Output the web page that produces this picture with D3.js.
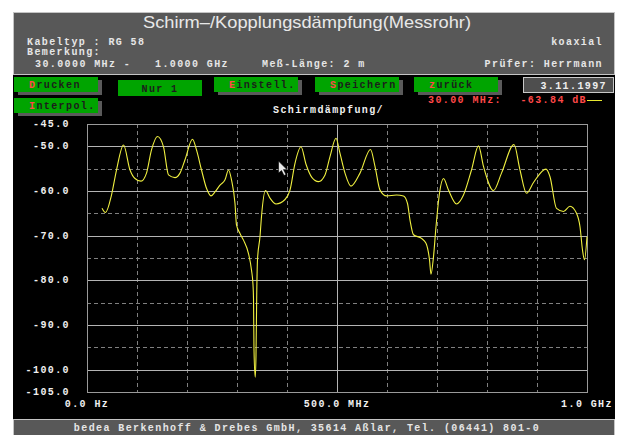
<!DOCTYPE html>
<meta charset="utf-8">
<head>
    <style>
        body {margin: 0; background: #fff;}
        text {font-family: "Liberation Mono", "DejaVu Sans Mono", monospace; font-weight: bold; font-size: 10px; letter-spacing: 1.4px;}
        .title {font-family: "Liberation Sans", Arial, sans-serif; font-weight: normal; font-size: 17px; letter-spacing: 0;}
        .grid-solid {stroke: #b4b4b4; stroke-width: 1;}
        .grid-dash {stroke: #808080; stroke-width: 1; stroke-dasharray: 4,3;}
    </style>
    <script src="https://d3js.org/d3.v7.min.js"></script>
</head>
<body>
<script>

    // measured curve, frequency in MHz, damping in dB
    var freqs = [30, 37, 49, 59, 73, 86, 96, 108, 119, 129, 141, 153, 163, 176, 186, 196, 211, 219, 229, 239,
                 248, 256, 266, 276, 283, 289, 296, 299, 306, 313, 323, 329, 332, 333, 334, 336.5, 338, 339.5, 341, 346,
                 349, 357, 366, 378, 396, 406, 416, 428, 438, 450, 463, 476, 486, 498, 506, 516, 528, 546, 567, 576,
                 586, 599, 619, 633, 641, 646, 653, 669, 678, 685, 688, 693, 698, 705, 713, 723, 739, 753, 769, 783,
                 793, 813, 829, 854, 866, 879, 893, 918, 926, 939, 953, 966, 979, 986, 991, 995, 1000];
    var damping = [-63.84, -64.8, -60.9, -55.3, -49.7, -55.3, -57.2, -57.8, -56.0, -50.8, -47.8, -50.1, -56.4, -57.0, -56.0, -53.0, -48.4, -50.8, -55.3, -59.4,
                   -61.1, -60.2, -58.7, -57.5, -55.3, -57.5, -62.8, -67.6, -69.5, -71.0, -74.0, -77.7, -81.0, -84.0, -95.6, -101.7, -96.7, -82.8, -75.4, -70.2,
                   -65.7, -59.9, -61.6, -62.9, -61.9, -59.8, -53.8, -50.1, -54.0, -57.0, -57.9, -56.4, -52.3, -48.2, -51.6, -56.0, -58.9, -56.0, -50.7, -54.5,
                   -59.8, -61.1, -60.9, -61.1, -62.8, -66.5, -69.8, -70.6, -71.7, -75.4, -78.6, -74.7, -68.0, -60.5, -57.2, -59.8, -62.9, -60.9, -55.3, -49.9,
                   -54.5, -59.9, -56.0, -49.6, -55.3, -60.5, -58.1, -55.1, -56.8, -63.9, -64.6, -63.4, -65.0, -68.0, -73.2, -75.4, -70.2];

    var yTicks = [-45, -50, -60, -70, -80, -90, -100, -105],
        yMinor = [-55, -65, -75, -85, -95],
        xMajor = [0, 500, 1000],
        xMinor = [100, 200, 300, 400, 600, 700, 800, 900],
        xLabels = ["0.0 Hz", "500.0 MHz", "1.0 GHz"];

    var buttons = [
        {label: "Drucken", x: 14, y: 77, pressed: false},
        {label: "Nur 1", x: 118, y: 80, pressed: true},
        {label: "Einstell.", x: 214, y: 77, pressed: false},
        {label: "Speichern", x: 315, y: 77, pressed: false},
        {label: "zurück", x: 414, y: 77, pressed: false},
        {label: "Interpol.", x: 14, y: 98, pressed: false}
    ];

    var W = 620, H = 435;
    var plot = {left: 87, right: 587, top: 124, bottom: 392};

    var x = d3.scaleLinear().domain([0, 1000]).range([plot.left, plot.right]);
    var y = d3.scaleLinear().domain([-45, -105]).range([plot.top, plot.bottom]);

    var svg = d3.select("body").append("svg")
        .attr("width", W)
        .attr("height", H)

    // black screen
    svg.append("rect").attr("x", 13).attr("y", 12).attr("width", 602).attr("height", H - 12).attr("fill", "#000")

    // header
    svg.append("rect").attr("x", 13.5).attr("y", 12.5).attr("width", 601).attr("height", 62)
        .attr("fill", "#585858").attr("stroke", "#c4c4c4")
    svg.append("text").attr("class", "title")
        .attr("x", 307).attr("y", 28).attr("text-anchor", "middle").attr("fill", "#e8e8e8")
        .attr("textLength", 328).attr("lengthAdjust", "spacingAndGlyphs")
        .text("Schirm–/Kopplungsdämpfung(Messrohr)")

    var head = [
        ["Kabeltyp : RG 58", 27, 45, "start"],
        ["Bemerkung:", 27, 55, "start"],
        ["30.0000 MHz -", 35, 67, "start"],
        ["1.0000 GHz", 155, 67, "start"],
        ["Meß-Länge: 2 m", 262, 67, "start"],
        ["koaxial", 603, 45, "end"],
        ["Prüfer: Herrmann", 603, 67, "end"]
    ];
    svg.selectAll(".head").data(head).enter().append("text")
        .attr("class", "head")
        .attr("x", function(d) {return d[1]})
        .attr("y", function(d) {return d[2]})
        .attr("text-anchor", function(d) {return d[3]})
        .attr("fill", "#e6e6e6")
        .text(function(d) {return d[0]})

    // buttons
    var btn = svg.selectAll(".btn").data(buttons).enter().append("g")
        .attr("class", "btn")
        .attr("transform", function(d) {return "translate(" + d.x + "," + d.y + ")"})
    btn.filter(function(d) {return !d.pressed}).append("rect")
        .attr("x", 4).attr("y", 3).attr("width", 84).attr("height", 15).attr("fill", "#5a5a5a")
    btn.append("rect")
        .attr("width", 84).attr("height", function(d) {return d.pressed ? 16 : 15})
        .attr("fill", "#00a400")
    var bt = btn.append("text")
        .attr("x", function(d) {return d.pressed ? 42 : 15})
        .attr("y", function(d) {return d.pressed ? 12 : 10.5})
        .attr("text-anchor", function(d) {return d.pressed ? "middle" : "start"})
        .attr("fill", "#1c1c1c")
    bt.filter(function(d) {return !d.pressed}).append("tspan").attr("fill", "#ff4848")
        .text(function(d) {return d.label[0]})
    bt.append("tspan")
        .text(function(d) {return d.pressed ? d.label : d.label.slice(1)})

    // date box
    svg.append("rect").attr("x", 523.5).attr("y", 77.5).attr("width", 90).attr("height", 15)
        .attr("fill", "#4e4e4e").attr("stroke", "#c8c8c8")
    svg.append("text").attr("x", 607).attr("y", 89).attr("text-anchor", "end").attr("fill", "#eeeeee")
        .text("3.11.1997")

    // cursor readout
    svg.append("text").attr("x", 428).attr("y", 103).attr("fill", "#ff4848")
        .text(freqs[0].toFixed(2) + " MHz:")
    svg.append("text").attr("x", 587).attr("y", 103).attr("text-anchor", "end").attr("fill", "#ff4848")
        .text(damping[0].toFixed(2) + " dB")
    svg.append("line").attr("x1", 587).attr("x2", 602).attr("y1", 100.5).attr("y2", 100.5)
        .attr("stroke", "#e8e830")

    svg.append("text").attr("x", 273).attr("y", 113).attr("fill", "#f0f0f0")
        .text("Schirmdämpfung/")

    // grid
    var g = svg.append("g")
    g.selectAll(".hm").data(yMinor).enter().append("line")
        .attr("class", "grid-dash")
        .attr("x1", plot.left).attr("x2", plot.right)
        .attr("y1", function(d) {return Math.round(y(d)) + 0.5})
        .attr("y2", function(d) {return Math.round(y(d)) + 0.5})
    g.selectAll(".vm").data(xMinor).enter().append("line")
        .attr("class", "grid-dash")
        .attr("y1", plot.top).attr("y2", plot.bottom)
        .attr("x1", function(d) {return Math.round(x(d)) + 0.5})
        .attr("x2", function(d) {return Math.round(x(d)) + 0.5})
    g.selectAll(".hs").data(yTicks.slice(1, -1)).enter().append("line")
        .attr("class", "grid-solid")
        .attr("x1", plot.left).attr("x2", plot.right)
        .attr("y1", function(d) {return Math.round(y(d)) + 0.5})
        .attr("y2", function(d) {return Math.round(y(d)) + 0.5})
    g.append("line").attr("class", "grid-solid")
        .attr("y1", plot.top).attr("y2", plot.bottom)
        .attr("x1", Math.round(x(500)) + 0.5).attr("x2", Math.round(x(500)) + 0.5)
    g.append("rect")
        .attr("x", plot.left + 0.5).attr("y", plot.top + 0.5)
        .attr("width", plot.right - plot.left).attr("height", plot.bottom - plot.top)
        .attr("fill", "none").attr("stroke", "#9a9a9a")

    // axis labels
    svg.selectAll(".ylab").data(yTicks).enter().append("text")
        .attr("class", "ylab")
        .attr("x", 70)
        .attr("y", function(d) {return y(d) + 3})
        .attr("text-anchor", "end")
        .attr("fill", "#f0f0f0")
        .text(function(d) {return d3.format(".1f")(d).replace("−", "-")})
    svg.selectAll(".xlab").data(xMajor).enter().append("text")
        .attr("class", "xlab")
        .attr("x", function(d) {return x(d)})
        .attr("y", 407)
        .attr("text-anchor", "middle")
        .attr("fill", "#f0f0f0")
        .text(function(d, i) {return xLabels[i]})

    // curve
    var line = d3.line()
        .x(function(d, i) {return x(freqs[i])})
        .y(function(d) {return y(d)})
        .curve(d3.curveMonotoneX)
    svg.append("path").datum(damping)
        .attr("d", line)
        .attr("fill", "none")
        .attr("stroke", "#f0f040")
        .attr("stroke-width", 1.1)

    // mouse pointer
    svg.append("path")
        .attr("transform", "translate(" + x(383) + "," + y(-53.3) + ")")
        .attr("d", "M0,0 L0,12 L3,9.5 L5.5,14.5 L7.5,13.5 L5,8.5 L8.5,8.5 Z")
        .attr("fill", "#e8e8e8").attr("stroke", "#000").attr("stroke-width", 0.6)

    // footer
    svg.append("rect").attr("x", 13.5).attr("y", 419.5).attr("width", 601).attr("height", 20)
        .attr("fill", "#585858").attr("stroke", "#c4c4c4")
    svg.append("text").attr("x", 307).attr("y", 431).attr("text-anchor", "middle").attr("fill", "#e6e6e6")
        .text("bedea Berkenhoff & Drebes GmbH, 35614 Aßlar, Tel. (06441) 801-0")

</script>
</body>
